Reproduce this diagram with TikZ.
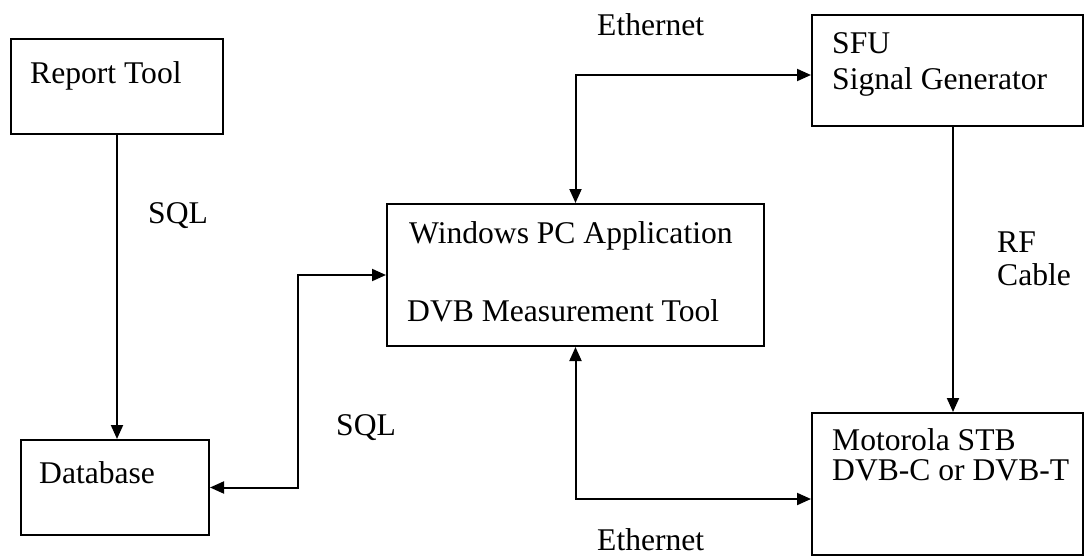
\documentclass[tikz,border=0pt]{standalone}
\usepackage{fontspec}
\setmainfont{Liberation Serif}
\usetikzlibrary{arrows.meta}
\begin{document}
\begin{tikzpicture}[x=1pt,y=-1pt,
  font=\fontsize{31.6pt}{38pt}\selectfont,
  box/.style={draw=black, line width=2pt, inner sep=0pt},
  lbl/.style={anchor=base west, inner sep=0pt},
  link/.style={line width=2pt, arrows={-Triangle[length=14pt,width=12pt]}},
  dlink/.style={line width=2pt, arrows={Triangle[length=14pt,width=12pt]-Triangle[length=14pt,width=12pt]}}]
\useasboundingbox[fill=white] (0,0) rectangle (1085,557);

% blocks
\node[box, minimum width=212pt, minimum height=95pt]  (report) at (117,86.5)   {};
\node[box, minimum width=188pt, minimum height=95pt]  (db)     at (115,487.5)  {};
\node[box, minimum width=377pt, minimum height=142pt] (win)    at (575.5,275)  {};
\node[box, minimum width=271pt, minimum height=111pt] (sfu)    at (947.5,70.5) {};
\node[box, minimum width=271pt, minimum height=142pt] (stb)    at (947.5,484)  {};

% block texts
\node[lbl] (treport) at (30,83)  {Report Tool};
\node[lbl] (tdb)     at (39,483) {Database};
\node[lbl] (twin1)   at (409,243) {Windows PC Application};
\node[lbl] (twin2)   at (407,321) {DVB Measurement Tool};
\node[lbl] (tsfu1)   at (832,53)  {SFU};
\node[lbl] (tsfu2)   at (832,89)  {Signal Generator};
\node[lbl] (tstb1)   at (832,450) {Motorola STB};
\node[lbl] (tstb2)   at (832,480) {DVB-C or DVB-T};

% connector labels
\node[lbl] (lsql1) at (148,223) {SQL};
\node[lbl] (lsql2) at (336,435) {SQL};
\node[lbl] (leth1) at (597,35)  {Ethernet};
\node[lbl] (leth2) at (597,550) {Ethernet};
\node[lbl] (lrf1)  at (997,252) {RF};
\node[lbl] (lrf2)  at (997,285) {Cable};

% connectors
\draw[link]  (report.south) -- (report.south |- db.north);
\draw[dlink] (db.east) -- ++(88,0) |- (win.west);
\draw[dlink] (win.north) |- ([yshift=-4.5pt]sfu.west);
\draw[link]  ([xshift=5.5pt]sfu.south) -- ([xshift=5.5pt]sfu.south |- stb.north);
\draw[dlink] (win.south) |- ([yshift=-15pt]stb.west);
\end{tikzpicture}
\end{document}
